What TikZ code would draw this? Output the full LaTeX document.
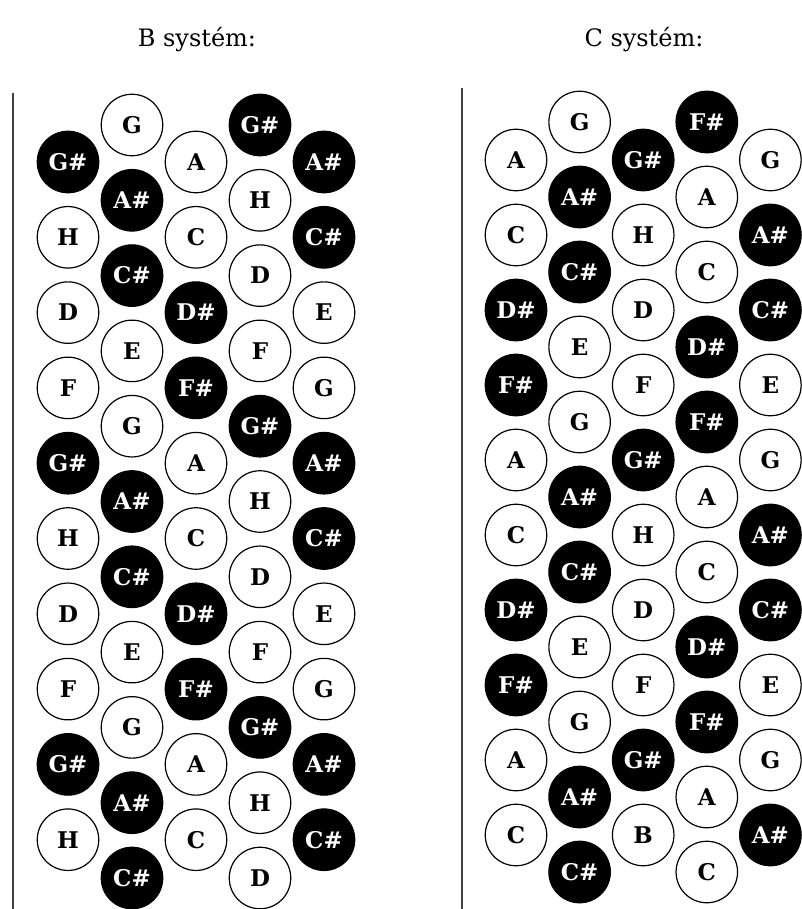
\documentclass[tikz,border=0pt]{standalone}
\usepackage{fontspec}
\setmainfont{DejaVu Serif}
\newcommand\keyfont{\fontsize{23pt}{24pt}\selectfont\bfseries}
\newcommand\titlefont{\fontsize{24pt}{28pt}\selectfont}
\begin{document}
\begin{tikzpicture}[x=1pt,y=-1pt,
  key/.style={circle, draw=black, line width=1.2pt, minimum size=61.5pt, inner sep=0pt,
              font=\keyfont},
  wk/.style={key, fill=white, text=black},
  bk/.style={key, fill=black, text=white},
  title/.style={font=\titlefont, inner sep=0pt},
  rail/.style={line width=2pt, draw=black!75}]
\useasboundingbox (0,0) rectangle (802,909);
\clip (0,0) rectangle (802,909);

% titles
\node[title] (tB) at (197,40) {B systém:};
\node[title] (tC) at (644,40) {C systém:};

% rails
\coordinate (rB1) at (13.3,93);  \coordinate (rB2) at (13.3,909);
\coordinate (rC1) at (462,88);   \coordinate (rC2) at (462,909);
\draw[rail] (rB1) -- (rB2);
\draw[rail] (rC1) -- (rC2);

% ---------- B system ----------
\foreach \s/\t [count=\i from 0] in {bk/G\#, wk/H, wk/D, wk/F, bk/G\#, wk/H, wk/D, wk/F, bk/G\#, wk/H}
  \node[\s] (B1-\i) at (68, 162+75.3*\i) {\t};
\foreach \s/\t [count=\i from 0] in {wk/G, bk/A\#, bk/C\#, wk/E, wk/G, bk/A\#, bk/C\#, wk/E, wk/G, bk/A\#, bk/C\#}
  \node[\s] (B2-\i) at (132, 125+75.3*\i) {\t};
\foreach \s/\t [count=\i from 0] in {wk/A, wk/C, bk/D\#, bk/F\#, wk/A, wk/C, bk/D\#, bk/F\#, wk/A, wk/C}
  \node[\s] (B3-\i) at (196, 162+75.3*\i) {\t};
\foreach \s/\t [count=\i from 0] in {bk/G\#, wk/H, wk/D, wk/F, bk/G\#, wk/H, wk/D, wk/F, bk/G\#, wk/H, wk/D}
  \node[\s] (B4-\i) at (260, 125+75.3*\i) {\t};
\foreach \s/\t [count=\i from 0] in {bk/A\#, bk/C\#, wk/E, wk/G, bk/A\#, bk/C\#, wk/E, wk/G, bk/A\#, bk/C\#}
  \node[\s] (B5-\i) at (324, 162+75.3*\i) {\t};

% ---------- C system ----------
\foreach \s/\t [count=\i from 0] in {wk/A, wk/C, bk/D\#, bk/F\#, wk/A, wk/C, bk/D\#, bk/F\#, wk/A, wk/C}
  \node[\s] (C1-\i) at (516, 160+75*\i) {\t};
\foreach \s/\t [count=\i from 0] in {wk/G, bk/A\#, bk/C\#, wk/E, wk/G, bk/A\#, bk/C\#, wk/E, wk/G, bk/A\#, bk/C\#}
  \node[\s] (C2-\i) at (579.6, 122+75*\i) {\t};
\foreach \s/\t [count=\i from 0] in {bk/G\#, wk/H, wk/D, wk/F, bk/G\#, wk/H, wk/D, wk/F, bk/G\#, wk/B}
  \node[\s] (C3-\i) at (643.2, 160+75*\i) {\t};
\foreach \s/\t [count=\i from 0] in {bk/F\#, wk/A, wk/C, bk/D\#, bk/F\#, wk/A, wk/C, bk/D\#, bk/F\#, wk/A, wk/C}
  \node[\s] (C4-\i) at (706.8, 122+75*\i) {\t};
\foreach \s/\t [count=\i from 0] in {wk/G, bk/A\#, bk/C\#, wk/E, wk/G, bk/A\#, bk/C\#, wk/E, wk/G, bk/A\#}
  \node[\s] (C5-\i) at (770.4, 160+75*\i) {\t};
\end{tikzpicture}
\end{document}
